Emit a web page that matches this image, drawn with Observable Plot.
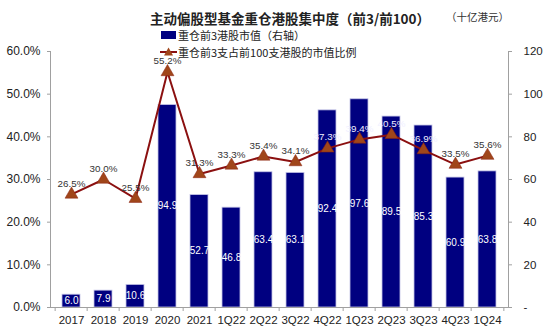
<!DOCTYPE html>
<html><head><meta charset="utf-8">
<script src="https://cdn.jsdelivr.net/npm/d3@7"></script>
<script src="https://cdn.jsdelivr.net/npm/@observablehq/plot@0.6"></script>
<style>
body{margin:0;background:#fff;}
#wrap{position:relative;width:550px;height:335px;font-family:"Liberation Sans","Noto Sans CJK SC",sans-serif;color:#222;}
#title{position:absolute;left:10px;width:560px;top:8px;text-align:center;font-size:13.5px;font-weight:bold;font-family:"Noto Sans CJK SC","Liberation Sans",sans-serif;color:#222;}
#unit{position:absolute;left:446px;top:9px;font-size:10.5px;font-family:"Noto Sans CJK SC",sans-serif;color:#333;}
.leg{position:absolute;left:160px;font-size:11px;font-family:"Noto Sans CJK SC","Liberation Sans",sans-serif;color:#222;display:flex;align-items:center;white-space:nowrap;}
#chart{position:absolute;left:0;top:0;}
</style></head>
<body>
<div id="wrap">
  <div id="chart"></div>
  <div id="title">主动偏股型基金重仓港股集中度（前3/前100）</div>
  <div id="unit">（十亿港元）</div>
  <div class="leg" style="top:27px;"><svg width="18" height="10"><rect x="1" y="1" width="15" height="8" fill="#000080"/></svg>重仓前3港股市值（右轴）</div>
  <div class="leg" style="top:44px;"><svg width="18" height="10"><line x1="0" y1="5" x2="17" y2="5" stroke="#8B1010" stroke-width="2"/><path d="M8.5,0.5 L13,8.5 L4,8.5 Z" fill="#A0461A"/></svg>重仓前3支占前100支港股的市值比例</div>
</div>
<script>
const categories = ["2017","2018","2019","2020","2021","1Q22","2Q22","3Q22","4Q22","1Q23","2Q23","3Q23","4Q23","1Q24"];
const top3Value = [6.0,7.9,10.6,94.9,52.7,46.8,63.4,63.1,92.4,97.6,89.5,85.3,60.9,63.8]; // 十亿港元, right axis
const top3Share = [26.5,30.0,25.5,55.2,31.3,33.3,35.4,34.1,37.3,39.4,40.5,36.9,33.5,35.6]; // %
const leftTicks = [0,10,20,30,40,50,60];
const rightTicks = [0,20,40,60,80,100,120];

const data = categories.map((c,i)=>({cat:c, val:top3Value[i], pct:top3Share[i]}));
const ratio = 60/120;
const W = 550, H = 335, mL = 50, mR = 42, mT = 51, mB = 28;
const step = (W - mL - mR) / categories.length;
const gray = "#a0a0a0";

const chart = Plot.plot({
  width: W, height: H,
  marginTop: mT, marginBottom: mB, marginLeft: mL, marginRight: mR,
  style: {fontFamily: '"Liberation Sans", Arial, sans-serif', color: "#222", background: "white"},
  x: {type: "band", domain: categories, paddingInner: 0.43, paddingOuter: 0.215, align: 0.5},
  y: {domain: [0, 60], nice: false},
  marks: [
    Plot.barY(data, {x: "cat", y: d => d.val * ratio, fill: "#000080", stroke: "#c4c4e6", strokeWidth: 0.8}),
    Plot.text(data, {x: "cat", y: d => d.val * ratio / 2, text: d => d.val.toFixed(1), fill: "white", fontSize: 10}),
    Plot.line(data, {x: "cat", y: "pct", stroke: "#8B1010", strokeWidth: 2}),
    Plot.dot(data, {x: "cat", y: "pct", symbol: "triangle", r: 4.8, fill: "#A0461A", stroke: "#8B2010", strokeWidth: 0.5}),
    Plot.text(data, {x: "cat", y: "pct", dy: -11, text: d => d.pct.toFixed(1) + "%", fontSize: 9.8,
      fill: d => (d.val * ratio > d.pct + 3 ? "#f0f0ff" : "#333")}),
    Plot.ruleY([0], {stroke: gray}),
    Plot.ruleX(categories, {x: d => d, y1: 0, y2: 0, dx: -step/2, insetBottom: -4, stroke: gray}),
    Plot.ruleX([categories[categories.length-1]], {x: d => d, y1: 0, y2: 0, dx: step/2, insetBottom: -4, stroke: gray}),
    Plot.frame({anchor: "left", stroke: gray}),
    Plot.frame({anchor: "right", stroke: gray}),
    Plot.axisY({anchor: "left", label: null, ticks: leftTicks, tickFormat: d => d.toFixed(1) + "%", tickSize: 3, tickPadding: 7, stroke: gray, fontSize: 12, fill: "#222"}),
    Plot.axisY({anchor: "right", label: null, ticks: rightTicks.map(v => v * ratio), tickFormat: d => d === 0 ? "-" : String(Math.round(d / ratio)), tickSize: 3, tickPadding: 12, stroke: gray, fontSize: 11.5, fill: "#222"}),
    Plot.axisX({tickSize: 0, tickPadding: 8, fontSize: 11.5, fill: "#222", label: null})
  ]
});
document.getElementById("chart").appendChild(chart);
</script>
</body></html>
